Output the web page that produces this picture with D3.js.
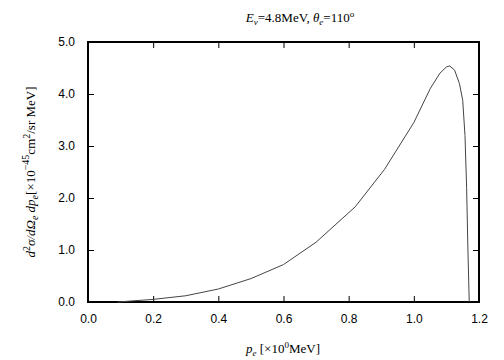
<!DOCTYPE html>
<html lang="en">
<head>
    <meta charset="UTF-8">
    <title>Differential cross section</title>
    <script src="https://d3js.org/d3.v7.min.js"></script>
    <style>
        body { margin: 0; background: #fff; }
        .tick text { font-family: "Liberation Sans", Arial, sans-serif; font-size: 12px; fill: #000; }
        .serif { font-family: "Liberation Serif", "Times New Roman", serif; font-size: 13px; fill: #000; }
    </style>
</head>
<body>
<div id="chart"></div>
<script>
    // electron momentum p_e [MeV] and cross section [1e-45 cm^2/sr MeV]
    const momentum = [0.09, 0.2, 0.3, 0.4, 0.5, 0.6, 0.7, 0.82, 0.91, 1.0, 1.05, 1.08, 1.1, 1.11, 1.125, 1.14, 1.15, 1.157, 1.162, 1.166, 1.17];
    const crossSection = [0, 0.05, 0.12, 0.25, 0.45, 0.72, 1.15, 1.83, 2.55, 3.45, 4.1, 4.4, 4.52, 4.54, 4.46, 4.2, 3.88, 3.2, 2.2, 1.0, 0];
    const xTicks = [0, 0.2, 0.4, 0.6, 0.8, 1.0, 1.2];
    const yTicks = [0, 1, 2, 3, 4, 5];

    const width = 504, height = 360;
    const margin = { top: 42, right: 25, bottom: 58, left: 88 };
    const w = width - margin.left - margin.right;
    const h = height - margin.top - margin.bottom;

    const svg = d3.select('#chart').append('svg')
        .attr('width', width)
        .attr('height', height);

    const g = svg.append('g')
        .attr('transform', `translate(${margin.left}, ${margin.top})`);

    const x = d3.scaleLinear().domain([0, 1.2]).range([0, w]);
    const y = d3.scaleLinear().domain([0, 5]).range([h, 0]);

    // inward ticks on all four sides
    const axBottom = g.append('g').attr('transform', `translate(0, ${h})`)
        .call(d3.axisBottom(x).tickValues(xTicks).tickSizeInner(-6).tickSizeOuter(0).tickPadding(12).tickFormat(d3.format('.1f')));
    const axTop = g.append('g')
        .call(d3.axisTop(x).tickValues(xTicks).tickSizeInner(-6).tickSizeOuter(0).tickFormat(''));
    const axLeft = g.append('g')
        .call(d3.axisLeft(y).tickValues(yTicks).tickSizeInner(-6).tickSizeOuter(0).tickPadding(13).tickFormat(d3.format('.1f')));
    const axRight = g.append('g').attr('transform', `translate(${w}, 0)`)
        .call(d3.axisRight(y).tickValues(yTicks).tickSizeInner(-6).tickSizeOuter(0).tickFormat(''));

    [axBottom, axTop, axLeft, axRight].forEach(a => {
        a.select('.domain').remove();
        a.selectAll('.tick line').attr('stroke', '#000').attr('stroke-width', 1);
    });

    // frame
    g.append('rect')
        .attr('width', w).attr('height', h)
        .attr('fill', 'none').attr('stroke', '#000').attr('stroke-width', 2);

    // curve
    const pts = momentum.map((m, i) => [m, crossSection[i]]);
    g.append('path')
        .datum(pts)
        .attr('fill', 'none')
        .attr('stroke', '#444')
        .attr('stroke-width', 1)
        .attr('d', d3.line().x(d => x(d[0])).y(d => y(d[1])));

    // title
    const title = svg.append('text').attr('class', 'serif')
        .attr('x', 300).attr('y', 22).attr('text-anchor', 'middle');
    title.append('tspan').attr('font-style', 'italic').text('E');
    title.append('tspan').attr('font-style', 'italic').attr('font-size', 9).attr('dy', 3).text('ν');
    title.append('tspan').attr('dy', -3).text('=4.8MeV,  ');
    title.append('tspan').attr('font-style', 'italic').text('θ');
    title.append('tspan').attr('font-style', 'italic').attr('font-size', 9).attr('dy', 3).text('e');
    title.append('tspan').attr('dy', -3).text('=110');
    title.append('tspan').attr('font-size', 9).attr('dy', -5).text('o');

    // x label
    const xl = svg.append('text').attr('class', 'serif')
        .attr('x', 283).attr('y', 353).attr('text-anchor', 'middle');
    xl.append('tspan').attr('font-style', 'italic').text('p');
    xl.append('tspan').attr('font-style', 'italic').attr('font-size', 9).attr('dy', 3).text('e');
    xl.append('tspan').attr('dy', -3).text(' [×10');
    xl.append('tspan').attr('font-size', 9).attr('dy', -5).text('0');
    xl.append('tspan').attr('dy', 5).text('MeV]');

    // y label
    const yl = svg.append('text').attr('class', 'serif')
        .attr('font-size', 14.5)
        .attr('transform', 'translate(35, 172) rotate(-90)')
        .attr('text-anchor', 'middle');
    yl.append('tspan').attr('font-style', 'italic').text('d');
    yl.append('tspan').attr('font-size', 10).attr('dy', -5).text('2');
    yl.append('tspan').attr('font-style', 'italic').attr('dy', 5).text('σ/dΩ');
    yl.append('tspan').attr('font-style', 'italic').attr('font-size', 10).attr('dy', 3).text('e');
    yl.append('tspan').attr('font-style', 'italic').attr('dy', -3).text(' dp');
    yl.append('tspan').attr('font-style', 'italic').attr('font-size', 10).attr('dy', 3).text('e');
    yl.append('tspan').attr('dy', -3).text('[×10');
    yl.append('tspan').attr('font-size', 10).attr('dy', -6).text('−45');
    yl.append('tspan').attr('dy', 6).text('cm');
    yl.append('tspan').attr('font-size', 10).attr('dy', -5).text('2');
    yl.append('tspan').attr('dy', 5).text('/sr MeV]');
</script>
</body>
</html>
